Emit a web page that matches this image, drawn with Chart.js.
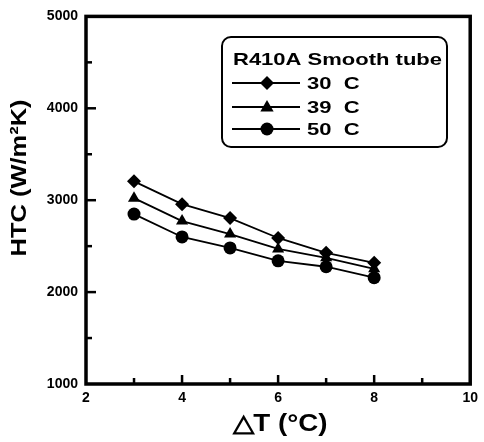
<!DOCTYPE html>
<html lang="en">
<head>
    <meta charset="UTF-8">
    <title>HTC vs dT</title>
    <script src="https://cdn.jsdelivr.net/npm/chart.js"></script>
    <style>
        html, body { margin: 0; padding: 0; background: #fff; }
        #wrap { width: 484px; height: 442px; }
    </style>
</head>
<body>
    <div id="wrap"><canvas id="grafica" width="484" height="442"></canvas></div>

    <script>
        // Datos
        const deltaT = [3, 4, 5, 6, 7, 8];
        const htc30 = [3205, 2957, 2805, 2589, 2427, 2319];
        const htc39 = [3022, 2773, 2632, 2470, 2373, 2254];
        const htc50 = [2849, 2600, 2481, 2340, 2276, 2157];
        const seriesLabels = ['30  C', '39  C', '50  C'];
        const seriesMarkers = ['rectRot', 'triangle', 'circle'];
        const legendTitle = 'R410A Smooth tube';
        const xTitle = '\u25B3T (\u00B0C)';
        const yTitle = 'HTC (W/m\u00B2K)';

        const FONT = '"Liberation Sans", Arial, sans-serif';

        function toPoints(ys) {
            return deltaT.map((x, i) => ({ x: x, y: ys[i] }));
        }

        // texto estirado horizontalmente hasta un ancho dado
        function fitText(ctx, text, x, y, width, align) {
            const w = ctx.measureText(text).width;
            const k = width / w;
            ctx.save();
            ctx.translate(x, y);
            ctx.scale(k, 1);
            ctx.textAlign = align || 'left';
            ctx.fillText(text, 0, 0);
            ctx.restore();
        }

        function drawMarker(ctx, style, x, y, r) {
            ctx.beginPath();
            if (style === 'rectRot') {
                ctx.moveTo(x, y - r); ctx.lineTo(x + r, y); ctx.lineTo(x, y + r); ctx.lineTo(x - r, y);
            } else if (style === 'triangle') {
                ctx.moveTo(x, y - r); ctx.lineTo(x + r * 0.95, y + r * 0.65); ctx.lineTo(x - r * 0.95, y + r * 0.65);
            } else {
                ctx.arc(x, y, r, 0, Math.PI * 2);
            }
            ctx.closePath();
            ctx.fill();
        }

        const marco = {
            id: 'marco',
            afterDraw(chart) {
                const ctx = chart.ctx;
                const a = chart.chartArea;
                const xs = chart.scales.x, ys = chart.scales.y;
                ctx.save();
                ctx.strokeStyle = '#000';
                ctx.lineWidth = 3.5;
                ctx.strokeRect(a.left, a.top, a.right - a.left, a.bottom - a.top);

                // marcas hacia dentro
                ctx.lineWidth = 2.5;
                xs.ticks.forEach(t => {
                    if (t.value <= xs.min || t.value >= xs.max) return;
                    const px = xs.getPixelForValue(t.value);
                    const len = t.value % 2 === 0 ? 9 : 6;
                    ctx.beginPath(); ctx.moveTo(px, a.bottom); ctx.lineTo(px, a.bottom - len); ctx.stroke();
                });
                ys.ticks.forEach(t => {
                    if (t.value <= ys.min || t.value >= ys.max) return;
                    const py = ys.getPixelForValue(t.value);
                    const len = t.value % 1000 === 0 ? 10 : 6;
                    ctx.beginPath(); ctx.moveTo(a.left, py); ctx.lineTo(a.left + len, py); ctx.stroke();
                });

                // titulos de ejes
                ctx.fillStyle = '#000';
                ctx.textBaseline = 'middle';
                ctx.font = 'bold 24px ' + FONT;
                fitText(ctx, xTitle, 280, 424, 95, 'center');
                ctx.save();
                ctx.translate(20, 178);
                ctx.rotate(-Math.PI / 2);
                ctx.font = 'bold 22px ' + FONT;
                fitText(ctx, yTitle, 0, 0, 157, 'center');
                ctx.restore();

                // leyenda
                ctx.lineWidth = 2;
                ctx.beginPath();
                ctx.roundRect(222, 37, 225, 110, 9);
                ctx.stroke();
                ctx.font = 'bold 17px ' + FONT;
                ctx.textBaseline = 'alphabetic';
                const titleW = ctx.measureText(legendTitle).width;
                const k = 209 / titleW;
                fitText(ctx, legendTitle, 233, 65, 209);
                const rowsY = [83, 107, 129];
                chart.data.datasets.forEach((ds, i) => {
                    const y = rowsY[i];
                    ctx.lineWidth = 1.8;
                    ctx.beginPath(); ctx.moveTo(232, y); ctx.lineTo(300, y); ctx.stroke();
                    drawMarker(ctx, ds.pointStyle, 267, y, ds.pointRadius);
                    ctx.textBaseline = 'middle';
                    const w = ctx.measureText(ds.label).width * k;
                    fitText(ctx, ds.label, 307, y + 1, w);
                });
                ctx.restore();
            }
        };

        const ds = [htc30, htc39, htc50].map((vals, i) => ({
            label: seriesLabels[i],
            data: toPoints(vals),
            borderColor: '#000',
            backgroundColor: '#000',
            borderWidth: 1.8,
            pointStyle: seriesMarkers[i],
            pointRadius: i === 2 ? 6.5 : 7,
            pointBackgroundColor: '#000',
            pointBorderColor: '#000',
            pointBorderWidth: 0
        }));

        new Chart(document.getElementById('grafica'), {
            type: 'line',
            data: { datasets: ds },
            options: {
                responsive: false,
                animation: false,
                layout: { padding: { top: 15, right: 9, left: 0, bottom: 0 } },
                plugins: { legend: { display: false }, tooltip: { enabled: false } },
                scales: {
                    x: {
                        type: 'linear', min: 2, max: 10,
                        grid: { display: false, drawTicks: false },
                        border: { display: false },
                        afterFit: s => { s.height = 58; },
                        ticks: {
                            stepSize: 1, padding: 6, color: '#000',
                            font: { family: FONT, size: 14, weight: 'bold' },
                            callback: v => v % 2 === 0 ? String(v) : ''
                        }
                    },
                    y: {
                        type: 'linear', min: 1000, max: 5000,
                        grid: { display: false, drawTicks: false },
                        border: { display: false },
                        afterFit: s => { s.width = 86; },
                        ticks: {
                            stepSize: 500, padding: 8, color: '#000',
                            font: { family: FONT, size: 14, weight: 'bold' },
                            callback: v => v % 1000 === 0 ? String(v) : ''
                        }
                    }
                }
            },
            plugins: [marco]
        });
    </script>
</body>
</html>
